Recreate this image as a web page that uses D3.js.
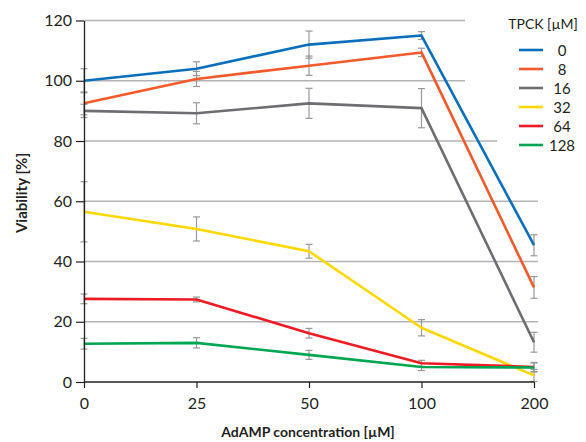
<!DOCTYPE html>
<html>
<head>
<meta charset="utf-8">
<script src="https://cdn.jsdelivr.net/npm/d3@7"></script>
<style>
  body { margin: 0; background: #fff; }
  text { font-family: Lato, "Noto Sans", sans-serif; fill: #231f20; }
</style>
</head>
<body>
<div id="chart"></div>
<script>
// AdAMP concentrations (categories, evenly spaced)
const concentrations = ["0", "25", "50", "100", "200"];
const yTicks = [0, 20, 40, 60, 80, 100, 120];

// TPCK series
const tpck = ["0", "8", "16", "32", "64", "128"];
const colors = ["#0a6fba", "#f15a29", "#6d6e71", "#ffd800", "#ed1c24", "#00a651"];

const viability = [
    [100, 104, 112, 115, 45.4],
    [92.5, 100.6, 105, 109.4, 31.4],
    [90, 89.2, 92.5, 90.9, 13.2],
    [56.5, 50.8, 43.4, 18, 2.2],
    [27.6, 27.4, 16.2, 6.2, 5],
    [12.7, 13, 9, 5, 4.8]
];
const errors = [
    [4, 2.3, 4.5, 1.3, 3.5],
    [3.8, 2.5, 3.2, 1.4, 3.6],
    [2.2, 3.5, 5, 6.5, 3.3],
    [10, 4, 2.3, 2.7, 2],
    [1.6, 0.8, 1.6, 1, 1.5],
    [1.8, 1.7, 1.5, 1.2, 1.5]
];

function main() {
    let width = 586;
    let height = 442;

    let svg = d3.select("#chart").append("svg")
        .attr("width", width)
        .attr("height", height);

    let xScale = d3.scalePoint().domain(concentrations).range([84, 534]);
    let yScale = d3.scaleLinear().domain([0, 120]).range([382, 20.5]);

    // gridlines
    svg.append("g")
        .selectAll("line")
        .data(yTicks.filter(d => d > 0))
        .enter()
        .append("line")
        .attr("x1", 84)
        .attr("x2", 538)
        .attr("y1", d => yScale(d))
        .attr("y2", d => yScale(d))
        .attr("stroke", "#b3b3b3")
        .attr("stroke-width", 1.3);

    // legend background hides the grid behind it
    svg.append("rect").attr("x", 465).attr("y", 0).attr("width", 121).attr("height", 128).attr("fill", "#fff");
    svg.append("rect").attr("x", 497).attr("y", 128).attr("width", 89).attr("height", 24).attr("fill", "#fff");

    const series = tpck.map(function(t, i) {
        return {name: t, color: colors[i], points: viability[i].map(function(v, j) {
            return {c: concentrations[j], v: v, e: errors[i][j]};
        })};
    });

    // error bars
    let eb = svg.append("g")
        .attr("stroke", "#999")
        .attr("stroke-width", 1.2)
        .attr("fill", "none");
    series.forEach(function(s) {
        s.points.forEach(function(p) {
            let x = xScale(p.c);
            let y1 = yScale(p.v + p.e), y2 = yScale(p.v - p.e);
            eb.append("line").attr("x1", x).attr("x2", x).attr("y1", y1).attr("y2", y2);
            eb.append("line").attr("x1", x - 3.5).attr("x2", x + 3.5).attr("y1", y1).attr("y2", y1);
            eb.append("line").attr("x1", x - 3.5).attr("x2", x + 3.5).attr("y1", y2).attr("y2", y2);
        });
    });

    // lines
    let line = d3.line()
        .x(d => xScale(d.c))
        .y(d => yScale(d.v));

    svg.append("g")
        .selectAll("path")
        .data(series)
        .enter()
        .append("path")
        .attr("d", d => line(d.points))
        .attr("fill", "none")
        .attr("stroke", d => d.color)
        .attr("stroke-width", 2.6)
        .attr("stroke-linejoin", "round");

    // x axis
    let xAxis = svg.append("g")
        .attr("transform", "translate(0, 382)")
        .call(d3.axisBottom(xScale).tickSize(6).tickPadding(10));
    xAxis.select(".domain").attr("d", "M84,0H534");
    xAxis.selectAll("line").attr("stroke", "#231f20").attr("stroke-width", 1.2);
    xAxis.select(".domain").attr("stroke", "#231f20").attr("stroke-width", 1.3);
    xAxis.selectAll("text")
        .attr("font-size", 16)
        .style("font-family", "Lato, sans-serif")
        .attr("fill", "#231f20");

    // y axis
    let yAxis = svg.append("g")
        .attr("transform", "translate(84, 0)")
        .call(d3.axisLeft(yScale).tickValues(yTicks).tickSize(8).tickSizeOuter(0).tickPadding(4));
    yAxis.selectAll("line").attr("stroke", "#231f20").attr("stroke-width", 1.2);
    yAxis.select(".domain").attr("stroke", "#231f20").attr("stroke-width", 1.3);
    yAxis.selectAll("text")
        .attr("font-size", 16)
        .style("font-family", "Lato, sans-serif")
        .attr("fill", "#231f20");

    // axis titles
    svg.append("text")
        .attr("x", 308)
        .attr("y", 437)
        .attr("text-anchor", "middle")
        .attr("font-size", 14)
        .attr("font-weight", "bold")
        .text("AdAMP concentration [\u00b5M]");

    svg.append("text")
        .attr("transform", "translate(27, 193) rotate(-90)")
        .attr("text-anchor", "middle")
        .attr("font-size", 15)
        .attr("font-weight", "bold")
        .text("Viability [%]");

    // legend
    let legend = svg.append("g");
    legend.append("text")
        .attr("x", 543)
        .attr("y", 29)
        .attr("text-anchor", "middle")
        .attr("font-size", 14)
        .text("TPCK [\u00b5M]");

    let rows = legend.selectAll("g.row")
        .data(series)
        .enter()
        .append("g")
        .attr("class", "row")
        .attr("transform", (d, i) => "translate(0," + (50 + i * 19) + ")");
    rows.append("line")
        .attr("x1", 519)
        .attr("x2", 543)
        .attr("stroke", d => d.color)
        .attr("stroke-width", 2.6);
    rows.append("text")
        .attr("x", 562)
        .attr("y", 5.5)
        .attr("text-anchor", "middle")
        .attr("font-size", 15)
        .text(d => d.name);
}

main();
</script>
</body>
</html>
